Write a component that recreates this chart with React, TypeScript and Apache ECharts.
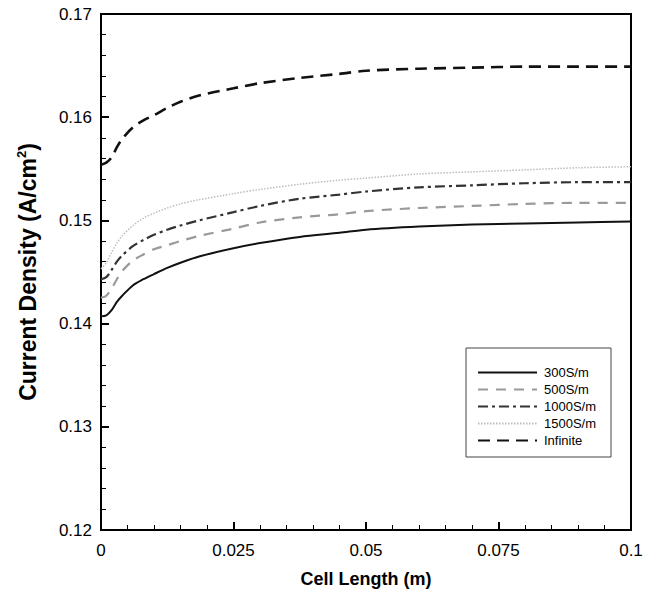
import React, { useEffect, useRef } from "react";
import * as echarts from "echarts";

const xs = [0, 0.001, 0.002, 0.003, 0.004, 0.006, 0.008, 0.01, 0.0125, 0.015, 0.0185, 0.025, 0.03, 0.0375, 0.045, 0.05, 0.06, 0.07, 0.08, 0.09, 0.1];
const s300 = [0.1407, 0.1408, 0.1413, 0.1421, 0.1427, 0.1437, 0.1443, 0.1448, 0.1454, 0.1459, 0.1465, 0.1473, 0.1478, 0.1484, 0.1488, 0.1491, 0.1494, 0.1496, 0.1497, 0.1498, 0.1499];
const s500 = [0.1425, 0.1427, 0.1434, 0.1443, 0.1451, 0.1461, 0.1467, 0.1472, 0.1476, 0.148, 0.1485, 0.1492, 0.1498, 0.1503, 0.1506, 0.1509, 0.1512, 0.1514, 0.1516, 0.1517, 0.1517];
const s1000 = [0.1443, 0.1445, 0.1452, 0.146, 0.1466, 0.1475, 0.1481, 0.1486, 0.1491, 0.1495, 0.15, 0.1508, 0.1514, 0.1521, 0.1525, 0.1528, 0.1532, 0.1534, 0.1536, 0.1537, 0.1537];
const s1500 = [0.1453, 0.1459, 0.1469, 0.1478, 0.1485, 0.1495, 0.1502, 0.1507, 0.1512, 0.1516, 0.152, 0.1526, 0.153, 0.1535, 0.1539, 0.1541, 0.1545, 0.1547, 0.1549, 0.1551, 0.1552];
const sInf = [0.1554, 0.1556, 0.1561, 0.1571, 0.1579, 0.159, 0.1597, 0.1602, 0.1609, 0.1615, 0.1621, 0.1628, 0.1633, 0.1638, 0.1642, 0.1645, 0.1647, 0.1648, 0.1649, 0.1649, 0.1649];
const seriesNames = ["300S/m", "500S/m", "1000S/m", "1500S/m", "Infinite"];

const zip = (ys: number[]) => xs.map((x, i) => [x, ys[i]]);

export default function App() {
  const ref = useRef<HTMLDivElement>(null);
  useEffect(() => {
    if (!ref.current) return;
    const chart = echarts.init(ref.current, null, { renderer: "svg" });
    const font = "Arial, 'Liberation Sans', sans-serif";
    const styles: any[] = [
      { color: "#111", width: 2, type: "solid" },
      { color: "#9a9a9a", width: 2.2, type: [10, 8] },
      { color: "#333", width: 2.2, type: [10, 4, 3, 4] },
      { color: "#bdbdbd", width: 1.5, type: [1.5, 1.5] },
      { color: "#111", width: 2.6, type: [12, 7] },
    ];
    const datas = [s300, s500, s1000, s1500, sInf];
    chart.setOption({
      animation: false,
      backgroundColor: "#fff",
      grid: { left: 101, right: 29, top: 14, bottom: 66, show: true, borderColor: "#000", borderWidth: 2, backgroundColor: "transparent" },
      graphic: [
        { type: "rect", shape: { x: 466, y: 348, width: 145, height: 109 }, style: { fill: "transparent", stroke: "#444", lineWidth: 1 }, z: 1 },
      ],
      legend: {
        orient: "vertical",
        left: 477,
        top: 366,
        padding: 0,
        itemWidth: 59,
        itemHeight: 12,
        itemGap: 4,
        itemStyle: { opacity: 0 },
        textStyle: { fontFamily: font, fontSize: 13, color: "#000", padding: [0, 0, 0, 2] },
        data: seriesNames,
      },
      xAxis: {
        type: "value",
        min: 0,
        max: 0.1,
        interval: 0.025,
        name: "Cell Length (m)",
        nameLocation: "middle",
        nameGap: 40,
        nameTextStyle: { fontFamily: font, fontSize: 18, fontWeight: "bold", color: "#000" },
        axisLine: { show: true, lineStyle: { color: "#000", width: 2 } },
        axisTick: { show: true, inside: true, length: 8, lineStyle: { color: "#000", width: 2 } },
        minorTick: { show: true, splitNumber: 5, length: 5, lineStyle: { color: "#000", width: 1 } },
        axisLabel: {
          fontFamily: font, fontSize: 17, color: "#000", margin: 12,
          formatter: (v: number) => String(parseFloat(v.toFixed(3))),
        },
        splitLine: { show: false },
      },
      yAxis: {
        type: "value",
        min: 0.12,
        max: 0.17,
        interval: 0.01,
        name: "Current Density (A/cm{sup|2})",
        nameLocation: "middle",
        nameGap: 60,
        nameRotate: 90,
        nameTextStyle: {
          fontFamily: font, fontSize: 23, fontWeight: "bold", color: "#000",
          rich: { sup: { fontFamily: font, fontSize: 13, fontWeight: "bold", color: "#000", verticalAlign: "top", padding: [0, 0, 13, 0] } },
        },
        axisLine: { show: true, lineStyle: { color: "#000", width: 2 } },
        axisTick: { show: true, inside: true, length: 8, lineStyle: { color: "#000", width: 2 } },
        minorTick: { show: true, splitNumber: 5, length: 5, lineStyle: { color: "#000", width: 1 } },
        axisLabel: {
          fontFamily: font, fontSize: 17, color: "#000", margin: 9,
          formatter: (v: number) => v.toFixed(2),
        },
        splitLine: { show: false },
      },
      series: seriesNames.map((n, i) => ({
        name: n,
        type: "line",
        data: zip(datas[i]),
        showSymbol: false,
        symbol: "none",
        smooth: 0.3,
        lineStyle: styles[i],
        itemStyle: { color: styles[i].color },
        z: 5 - i,
      })),
    });
    return () => chart.dispose();
  }, []);
  return <div ref={ref} style={{ position: "fixed", left: 0, top: 0, width: 660, height: 596 }} />;
}
